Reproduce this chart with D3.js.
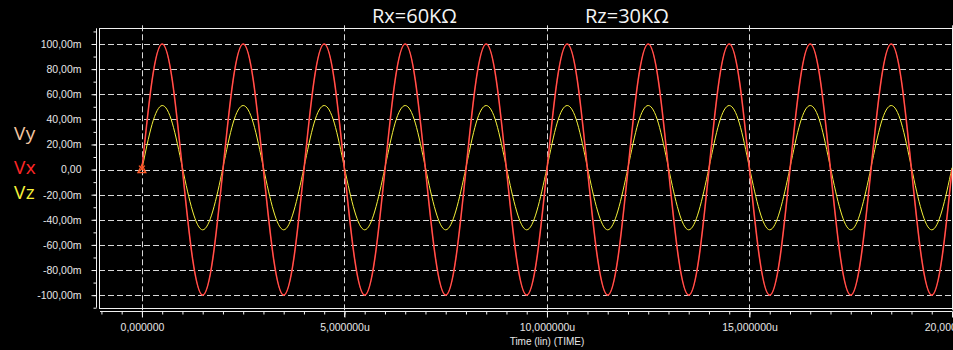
<!DOCTYPE html>
<html>
<head>
<meta charset="utf-8">
<script src="https://cdn.jsdelivr.net/npm/d3@7/dist/d3.min.js"></script>
<style>
  html, body { margin: 0; padding: 0; background: #000; }
  svg { display: block; }
  .tick text { font-family: "Liberation Sans", Arial, sans-serif; }
</style>
</head>
<body>
<svg id="chart" width="953" height="350"></svg>
<script>
// Transient sample times (microseconds)
const timeUs = [
  0, 0.25, 0.5, 0.75, 1, 1.25, 1.5, 1.75, 2, 2.25, 2.5, 2.75, 3, 3.25, 3.5, 3.75,
  4, 4.25, 4.5, 4.75, 5, 5.25, 5.5, 5.75, 6, 6.25, 6.5, 6.75, 7, 7.25, 7.5, 7.75,
  8, 8.25, 8.5, 8.75, 9, 9.25, 9.5, 9.75, 10, 10.25, 10.5, 10.75, 11, 11.25, 11.5, 11.75,
  12, 12.25, 12.5, 12.75, 13, 13.25, 13.5, 13.75, 14, 14.25, 14.5, 14.75, 15, 15.25, 15.5, 15.75,
  16, 16.25, 16.5, 16.75, 17, 17.25, 17.5, 17.75, 18, 18.25, 18.5, 18.75, 19, 19.25, 19.5, 19.75, 20
];

// Node voltages (mV)
const vx = [
  0, 71, 100, 71, 0, -71, -100, -71, 0, 71, 100, 71, 0, -71, -100, -71,
  0, 71, 100, 71, 0, -71, -100, -71, 0, 71, 100, 71, 0, -71, -100, -71,
  0, 71, 100, 71, 0, -71, -100, -71, 0, 71, 100, 71, 0, -71, -100, -71,
  0, 71, 100, 71, 0, -71, -100, -71, 0, 71, 100, 71, 0, -71, -100, -71,
  0, 71, 100, 71, 0, -71, -100, -71, 0, 71, 100, 71, 0, -71, -100, -71, 0
];
const vy = [
  0, 71, 100, 71, 0, -71, -100, -71, 0, 71, 100, 71, 0, -71, -100, -71,
  0, 71, 100, 71, 0, -71, -100, -71, 0, 71, 100, 71, 0, -71, -100, -71,
  0, 71, 100, 71, 0, -71, -100, -71, 0, 71, 100, 71, 0, -71, -100, -71,
  0, 71, 100, 71, 0, -71, -100, -71, 0, 71, 100, 71, 0, -71, -100, -71,
  0, 71, 100, 71, 0, -71, -100, -71, 0, 71, 100, 71, 0, -71, -100, -71, 0
];
const vz = [
  0, 36, 51, 37, 1.5, -33, -48, -33, 1.5, 37, 51, 37, 1.5, -33, -48, -33,
  1.5, 37, 51, 37, 1.5, -33, -48, -33, 1.5, 37, 51, 37, 1.5, -33, -48, -33,
  1.5, 37, 51, 37, 1.5, -33, -48, -33, 1.5, 37, 51, 37, 1.5, -33, -48, -33,
  1.5, 37, 51, 37, 1.5, -33, -48, -33, 1.5, 37, 51, 37, 1.5, -33, -48, -33,
  1.5, 37, 51, 37, 1.5, -33, -48, -33, 1.5, 37, 51, 37, 1.5, -33, -48, -33, 1.5
];

// Axis ticks and labels
const yTickValues = [100, 80, 60, 40, 20, 0, -20, -40, -60, -80, -100];
const yTickLabels = ["100,00m", "80,00m", "60,00m", "40,00m", "20,00m", "0,00",
                     "-20,00m", "-40,00m", "-60,00m", "-80,00m", "-100,00m"];
const xTickValues = [0, 5, 10, 15, 20];
const xTickLabels = ["0,000000", "5,000000u", "10,000000u", "15,000000u", "20,000000u"];
const yMinorTicks = d3.range(-110, 111, 10);
const xMinorTicks = d3.range(-1, 20.01, 0.5);

const seriesNames = ["Vy", "Vx", "Vz"];
const seriesColors = { Vy: "#f3c6a0", Vx: "#ff2626", Vz: "#f6f23a" };
const annotations = ["Rx=60K\u03A9", "Rz=30K\u03A9"];
const xAxisTitle = "Time (lin) (TIME)";

const svg = d3.select("#chart");
const W = 953, H = 350;
svg.append("rect").attr("width", W).attr("height", H).attr("fill", "#000");

const plot = { left: 99, right: 952, top: 28.3, bottom: 307.7 };
const x = d3.scaleLinear().domain([-1.06, 20]).range([plot.left, plot.right]);
const y = d3.scaleLinear().domain([-110, 112.5]).range([plot.bottom, plot.top]);

const gridColor = "#d8d8d8";
const textColor = "#e6e6e6";

// Dashed grid
const grid = svg.append("g");
grid.selectAll("line.h").data(yTickValues).join("line")
  .attr("x1", plot.left).attr("x2", plot.right)
  .attr("y1", d => Math.round(y(d)) + 0.5).attr("y2", d => Math.round(y(d)) + 0.5)
  .attr("stroke", gridColor).attr("stroke-width", 1).attr("stroke-dasharray", "6,3");
grid.selectAll("line.v").data(xTickValues).join("line")
  .attr("x1", d => Math.round(x(d)) + 0.5).attr("x2", d => Math.round(x(d)) + 0.5)
  .attr("y1", plot.top - 3).attr("y2", 317)
  .attr("stroke", gridColor).attr("stroke-width", 1).attr("stroke-dasharray", "6,3");

// Frame
svg.append("rect")
  .attr("x", plot.left + 0.5).attr("y", Math.round(plot.top) + 0.5)
  .attr("width", plot.right - plot.left).attr("height", Math.round(plot.bottom) - Math.round(plot.top))
  .attr("fill", "none").attr("stroke", "#f0f0f0").attr("stroke-width", 1);

// Left axis
const yAxisG = svg.append("g").attr("transform", "translate(96.5,0)");
yAxisG.call(d3.axisLeft(y).tickValues(yTickValues)
  .tickFormat((d, i) => yTickLabels[i]).tickSize(5).tickPadding(10));
const yMinorG = svg.append("g").attr("transform", "translate(96.5,0)");
yMinorG.call(d3.axisLeft(y).tickValues(yMinorTicks).tickFormat("").tickSize(3));
[yAxisG, yMinorG].forEach(g => {
  g.select(".domain").attr("stroke", "#f0f0f0");
  g.selectAll(".tick line").attr("stroke", "#f0f0f0");
});
yMinorG.select(".domain").remove();
yAxisG.select(".domain").attr("d", `M0,${plot.top}V${plot.bottom}`);
yAxisG.selectAll(".tick text")
  .attr("fill", textColor).attr("font-size", "10.5px");

// Bottom axis
const xAxisG = svg.append("g").attr("transform", "translate(0,311.5)");
xAxisG.call(d3.axisBottom(x).tickValues(xTickValues)
  .tickFormat((d, i) => xTickLabels[i]).tickSize(6).tickPadding(6));
const xMinorG = svg.append("g").attr("transform", "translate(0,311.5)");
xMinorG.call(d3.axisBottom(x).tickValues(xMinorTicks).tickFormat("").tickSize(3));
[xAxisG, xMinorG].forEach(g => {
  g.selectAll(".tick line").attr("stroke", "#f0f0f0");
});
xMinorG.select(".domain").remove();
xAxisG.select(".domain").attr("stroke", "#f0f0f0").attr("d", `M${plot.left + 1},0H${plot.right}`);
xAxisG.selectAll(".tick text")
  .attr("fill", textColor).attr("font-size", "10.5px");

svg.append("text")
  .attr("x", x(10)).attr("y", 345)
  .attr("text-anchor", "middle")
  .attr("font-family", "Liberation Sans, Arial, sans-serif")
  .attr("font-size", "10px").attr("fill", textColor)
  .text(xAxisTitle);

// Traces
svg.append("clipPath").attr("id", "plotClip")
  .append("rect").attr("x", plot.left + 1).attr("y", plot.top)
  .attr("width", plot.right - plot.left - 1).attr("height", plot.bottom - plot.top);

const line = d3.line()
  .x((d, i) => x(timeUs[i]))
  .y(d => y(d))
  .curve(d3.curveNatural);

const traces = svg.append("g").attr("clip-path", "url(#plotClip)");
traces.append("path").datum(vz).attr("d", line)
  .attr("fill", "none").attr("stroke", seriesColors.Vz).attr("stroke-width", 1);
traces.append("path").datum(vx).attr("d", line)
  .attr("fill", "none").attr("stroke", seriesColors.Vx).attr("stroke-width", 1.6);
traces.append("path").datum(vy).attr("d", line)
  .attr("fill", "none").attr("stroke", "#ff9a8a").attr("stroke-width", 0.6)
  .attr("stroke-opacity", 0.8);

// Start-point cursor marker
const mx = x(timeUs[0]), my = y(vx[0]) - 1;
const marker = svg.append("g").attr("transform", `translate(${mx},${my})`)
  .attr("fill", "none").attr("stroke", "#ff5a28").attr("stroke-width", 1.2);
marker.append("path").attr("d", "M-4,4L0,-4L4,4Z");
marker.append("path").attr("d", "M-3,-3L3,3M3,-3L-3,3");

// Legend
const legendY = { Vy: 139.5, Vx: 173.5, Vz: 198.5 };
svg.append("g").selectAll("text").data(seriesNames).join("text")
  .attr("x", 14).attr("y", d => legendY[d])
  .attr("font-family", "Open Sans, sans-serif")
  .attr("font-size", "19px")
  .attr("letter-spacing", "0.5px")
  .attr("fill", d => seriesColors[d])
  .text(d => d);

// Resistor value annotations
const annX = [372, 585];
svg.append("g").selectAll("text").data(annotations).join("text")
  .attr("x", (d, i) => annX[i]).attr("y", 23.3)
  .attr("font-family", "Open Sans, sans-serif")
  .attr("font-size", "20px")
  .attr("fill", "#f4f4f4")
  .text(d => d);
</script>
</body>
</html>
